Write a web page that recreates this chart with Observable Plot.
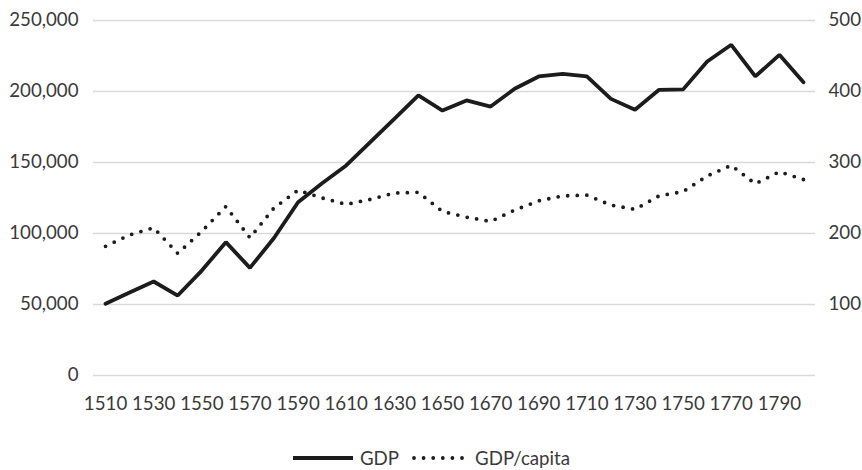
<!DOCTYPE html>
<html>
<head>
<meta charset="utf-8">
<script src="https://cdn.jsdelivr.net/npm/d3@7"></script>
<script src="https://cdn.jsdelivr.net/npm/@observablehq/plot@0.6"></script>
<style>
  html, body { margin: 0; padding: 0; background: #fff; }
  body { width: 862px; height: 470px; overflow: hidden; position: relative; font-family: Lato, "Open Sans", sans-serif; }
  #legend { position: absolute; left: 0; top: 447px; width: 862px; display: flex; justify-content: center; align-items: center; height: 22px; line-height: 22px; font-size: 18.7px; color: #3a3a3a; }
  #legend .item { display: flex; align-items: center; margin: 0 6px; }
  #legend svg { margin-right: 6px; }
</style>
</head>
<body>
<div id="chart"></div>
<div id="legend"></div>
<script>
const years = [1510, 1520, 1530, 1540, 1550, 1560, 1570, 1580, 1590, 1600,
               1610, 1620, 1630, 1640, 1650, 1660, 1670, 1680, 1690, 1700,
               1710, 1720, 1730, 1740, 1750, 1760, 1770, 1780, 1790, 1800];
const gdp = [50500, 58500, 66200, 56300, 73900, 93900, 75800, 96800, 122000, 135400,
             147900, 164300, 180700, 197200, 186600, 193700, 189400, 201900, 210600, 212400,
             210600, 194800, 187100, 201200, 201500, 221100, 232900, 210600, 225800, 206500];
const gdpPerCapita = [182, 198, 208, 172, 203, 238, 194, 236, 261, 250,
                      241, 248, 257, 258, 231, 223, 217, 233, 246, 253,
                      254, 240, 234, 253, 259, 281, 296, 270, 287, 276];
const leftTicks = [0, 50000, 100000, 150000, 200000, 250000];
const rightTicks = [100, 200, 300, 400, 500];
const xTicks = [1510, 1530, 1550, 1570, 1590, 1610, 1630, 1650, 1670, 1690, 1710, 1730, 1750, 1770, 1790];
const seriesNames = ["GDP", "GDP/capita"];

const ratio = 250000 / 500; // right axis maps onto left scale
const rows = years.map((y, i) => ({year: y, gdp: gdp[i], pc: gdpPerCapita[i]}));

const textColor = "#3a3a3a";
const lineColor = "#1c1c1c";

const chart = Plot.plot({
  width: 862,
  height: 440,
  marginTop: 20,
  marginBottom: 65,
  marginLeft: 93,
  marginRight: 47,
  style: {fontFamily: "Lato, 'Open Sans', sans-serif", fontSize: "18.7px", color: textColor, background: "#fff"},
  x: {domain: [1505, 1805]},
  y: {domain: [0, 250000]},
  marks: [
    Plot.gridY(leftTicks, {stroke: "#d9d9d9", strokeOpacity: 1, strokeWidth: 1.5}),
    Plot.axisY({ticks: leftTicks, tickFormat: d3.format(","), tickSize: 0, tickPadding: 15, label: null, fill: textColor}),
    Plot.axisY({anchor: "right", ticks: rightTicks.map(v => v * ratio), tickFormat: d => d3.format(",")(d / ratio), tickSize: 0, tickPadding: 13, label: null, fill: textColor}),
    Plot.axisX({ticks: xTicks, tickFormat: d => String(d), tickSize: 0, tickPadding: 21, label: null, fill: textColor}),
    Plot.line(rows, {x: "year", y: d => d.pc * ratio, stroke: lineColor, strokeWidth: 3.8, strokeDasharray: "0 9.6", strokeLinecap: "round", strokeLinejoin: "round"}),
    Plot.line(rows, {x: "year", y: "gdp", stroke: lineColor, strokeWidth: 3.8, strokeLinejoin: "miter"})
  ]
});
document.getElementById("chart").appendChild(chart);

const legend = document.getElementById("legend");
const swatches = [
  `<svg width="62" height="8"><line x1="1" y1="4" x2="61" y2="4" stroke="${lineColor}" stroke-width="3.8"/></svg>`,
  `<svg width="58" height="8"><line x1="3" y1="4" x2="56" y2="4" stroke="${lineColor}" stroke-width="3.8" stroke-dasharray="0 9.6" stroke-linecap="round"/></svg>`
];
seriesNames.forEach((name, i) => {
  const item = document.createElement("div");
  item.className = "item";
  item.innerHTML = swatches[i] + `<span>${name}</span>`;
  legend.appendChild(item);
});
</script>
</body>
</html>
